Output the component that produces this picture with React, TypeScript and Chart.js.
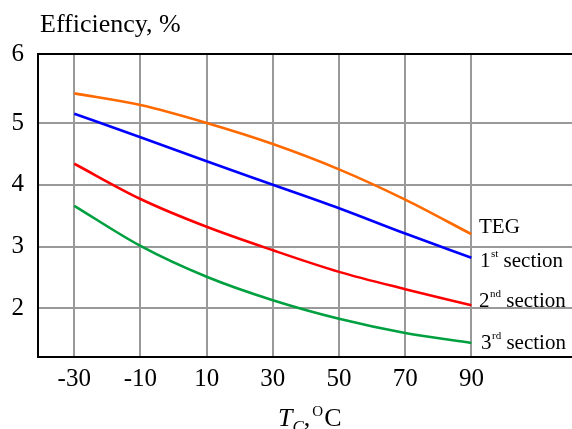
import React, { useEffect, useRef } from "react";
import { Chart, registerables } from "chart.js";

Chart.register(...registerables);

const temperatures = [-30, -10, 10, 30, 50, 70, 90];
const tegEff = [5.48, 5.29, 5.0, 4.66, 4.25, 3.76, 3.2];
const section1Eff = [5.15, 4.77, 4.38, 4.0, 3.62, 3.21, 2.82];
const section2Eff = [4.34, 3.77, 3.32, 2.94, 2.59, 2.31, 2.05];
const section3Eff = [3.66, 3.01, 2.51, 2.13, 1.83, 1.6, 1.44];
const xTicks = [-30, -10, 10, 30, 50, 70, 90];
const yTicks = [2, 3, 4, 5, 6.117];

const SERIF = '"Liberation Serif", "Times New Roman", serif';

const toPoints = (ys: number[]) => temperatures.map((x, i) => ({ x, y: ys[i] }));

const textPlugin = {
  id: "texts",
  afterDraw(chart: any) {
    const ctx = chart.ctx as CanvasRenderingContext2D;
    const area = chart.chartArea;
    ctx.save();
    // top border
    ctx.strokeStyle = "#000";
    ctx.lineWidth = 2;
    ctx.beginPath();
    ctx.moveTo(area.left - 1, area.top);
    ctx.lineTo(area.right, area.top);
    ctx.stroke();

    ctx.fillStyle = "#000";
    ctx.textBaseline = "alphabetic";
    ctx.textAlign = "left";
    // y title
    ctx.font = `26px ${SERIF}`;
    ctx.fillText("Efficiency, %", 40, 32);

    // series labels
    const drawLabel = (num: string, sup: string, rest: string, x: number, y: number) => {
      ctx.font = `21px ${SERIF}`;
      ctx.fillText(num, x, y);
      let cx = x + ctx.measureText(num).width;
      if (sup) {
        ctx.font = `11px ${SERIF}`;
        ctx.fillText(sup, cx + 0.5, y - 10);
        cx += ctx.measureText(sup).width + 0.5;
      }
      ctx.font = `21px ${SERIF}`;
      ctx.fillText(rest, cx, y);
    };
    drawLabel("TEG", "", "", 479, 233);
    drawLabel("1", "st", " section", 480, 267);
    drawLabel("2", "nd", " section", 479, 307);
    drawLabel("3", "rd", " section", 481, 349);

    // x title: T_C, °C
    let x = 278;
    const base = 426;
    ctx.font = `italic 26px ${SERIF}`;
    ctx.fillText("T", x, base);
    x += ctx.measureText("T").width;
    ctx.font = `italic 17px ${SERIF}`;
    ctx.fillText("C", x, base + 6);
    x += ctx.measureText("C").width;
    ctx.font = `26px ${SERIF}`;
    ctx.fillText(",", x, base);
    x += ctx.measureText(",").width + 2;
    ctx.font = `15px ${SERIF}`;
    ctx.fillText("O", x, base - 10);
    x += ctx.measureText("O").width + 1;
    ctx.font = `26px ${SERIF}`;
    ctx.fillText("C", x, base);
    ctx.restore();
  },
};

export default function App() {
  const ref = useRef<HTMLCanvasElement>(null);
  useEffect(() => {
    document.body.style.margin = "0";
    const canvas = ref.current!;
    const mk = (label: string, ys: number[], color: string) => ({
      label,
      data: toPoints(ys),
      borderColor: color,
      backgroundColor: color,
      borderWidth: 2.6,
      pointRadius: 0,
      cubicInterpolationMode: "monotone" as const,
      fill: false,
    });
    const chart = new Chart(canvas, {
      type: "line",
      data: {
        datasets: [
          mk("TEG", tegEff, "#ff6a00"),
          mk("1st section", section1Eff, "#0000ff"),
          mk("2nd section", section2Eff, "#ff0000"),
          mk("3rd section", section3Eff, "#00a040"),
        ],
      },
      options: {
        animation: false,
        responsive: false,
        devicePixelRatio: 1,
        layout: { padding: { top: 54, right: 0, left: 0, bottom: 0 } },
        plugins: { legend: { display: false }, tooltip: { enabled: false } },
        scales: {
          x: {
            type: "linear",
            min: -40.96,
            max: 120.4,
            afterBuildTicks: (s: any) => {
              s.ticks = xTicks.map((v) => ({ value: v }));
            },
            afterFit: (s: any) => {
              s.height = 72;
            },
            ticks: {
              color: "#000",
              font: { family: SERIF, size: 25 },
              padding: 7,
              maxRotation: 0,
              callback: (v: any) => String(v),
            },
            grid: { color: "#999", lineWidth: 2, drawTicks: false },
            border: { color: "#000", width: 2 },
          },
          y: {
            type: "linear",
            min: 1.212,
            max: 6.117,
            afterBuildTicks: (s: any) => {
              s.ticks = yTicks.map((v) => ({ value: v }));
            },
            afterFit: (s: any) => {
              s.width = 38;
            },
            ticks: {
              color: "#000",
              font: { family: SERIF, size: 25 },
              padding: 14,
              callback: (v: any) => String(Math.round(v)),
            },
            grid: { color: "#999", lineWidth: 2, drawTicks: false },
            border: { color: "#000", width: 2 },
          },
        },
      },
      plugins: [textPlugin],
    });
    return () => chart.destroy();
  }, []);
  return <canvas ref={ref} width={572} height={429} style={{ display: "block" }} />;
}
